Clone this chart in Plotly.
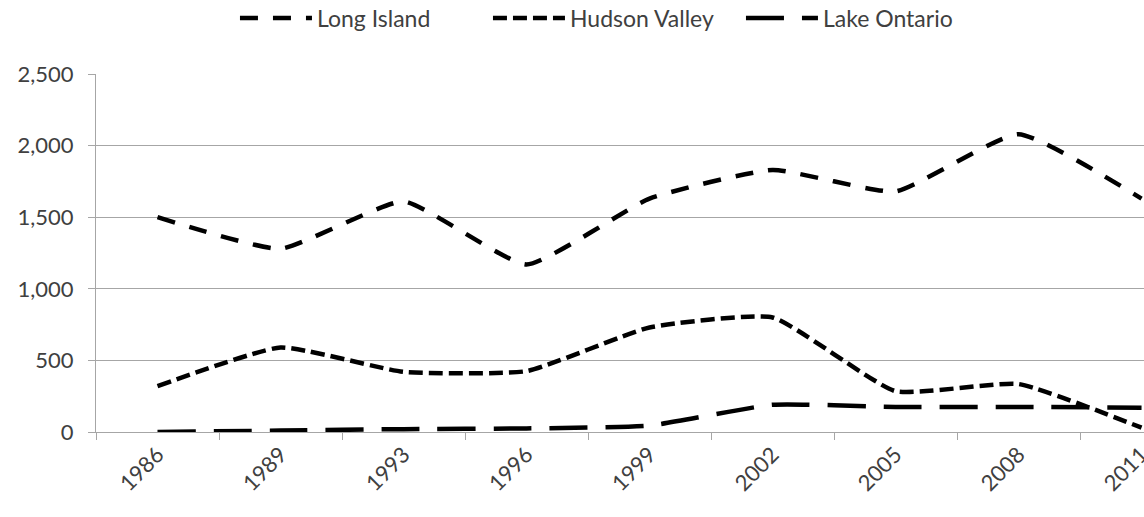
import plotly.graph_objects as go

years = ["1986", "1989", "1993", "1996", "1999", "2002", "2005", "2008", "2011"]
long_island = [1500, 1280, 1610, 1170, 1630, 1830, 1680, 2080, 1630]
hudson_valley = [320, 590, 420, 425, 730, 800, 285, 335, 30]
lake_ontario = [0, 10, 20, 25, 45, 190, 175, 175, 170]
y_ticks = [0, 500, 1000, 1500, 2000, 2500]

FONT = "Lato, 'Open Sans', sans-serif"
TXT = "#404040"
GRID = "#a6a6a6"

fig = go.Figure()
series = [
    ("Long Island", long_island, "18px,15px"),
    ("Hudson Valley", hudson_valley, "14px,6px"),
    ("Lake Ontario", lake_ontario, "38px,18px"),
]
for name, vals, dash in series:
    fig.add_trace(go.Scatter(
        x=years, y=vals, name=name, mode="lines",
        line=dict(color="black", width=4.5, dash=dash, shape="spline", smoothing=0.45),
    ))

fig.update_layout(
    width=1144, height=517,
    margin=dict(l=96, r=0, t=74, b=85, autoexpand=False),
    paper_bgcolor="white", plot_bgcolor="white",
    font=dict(family=FONT, size=22, color=TXT),
    showlegend=True,
    legend=dict(
        orientation="h", x=0.1326, xanchor="left",
        y=1.156, yanchor="middle",
        font=dict(size=23, color=TXT), itemwidth=72,
        entrywidth=166,
    ),
)
fig.update_xaxes(
    type="category", range=[-0.5, 8.02], automargin=False,
    showgrid=False, showline=True, linecolor=GRID, linewidth=1.3,
    ticks="outside", tickson="boundaries", ticklen=7, tickcolor=GRID, tickwidth=1.3,
    tickangle=-45, tickfont=dict(size=22, color=TXT),
)
fig.update_yaxes(
    range=[0, 2500], tickvals=y_ticks, tickformat=",", automargin=False,
    showgrid=True, gridcolor=GRID, gridwidth=1.3,
    showline=True, linecolor=GRID, linewidth=1.3,
    ticks="outside", ticklen=7, tickcolor=GRID, tickwidth=1.3,
    ticklabelstandoff=10, zeroline=False,
    tickfont=dict(size=22, color=TXT),
)

fig.write_html(
    "out.html",
    config={"displayModeBar": False},
    post_script="document.body.style.margin='0';document.body.style.overflow='hidden';",
)
